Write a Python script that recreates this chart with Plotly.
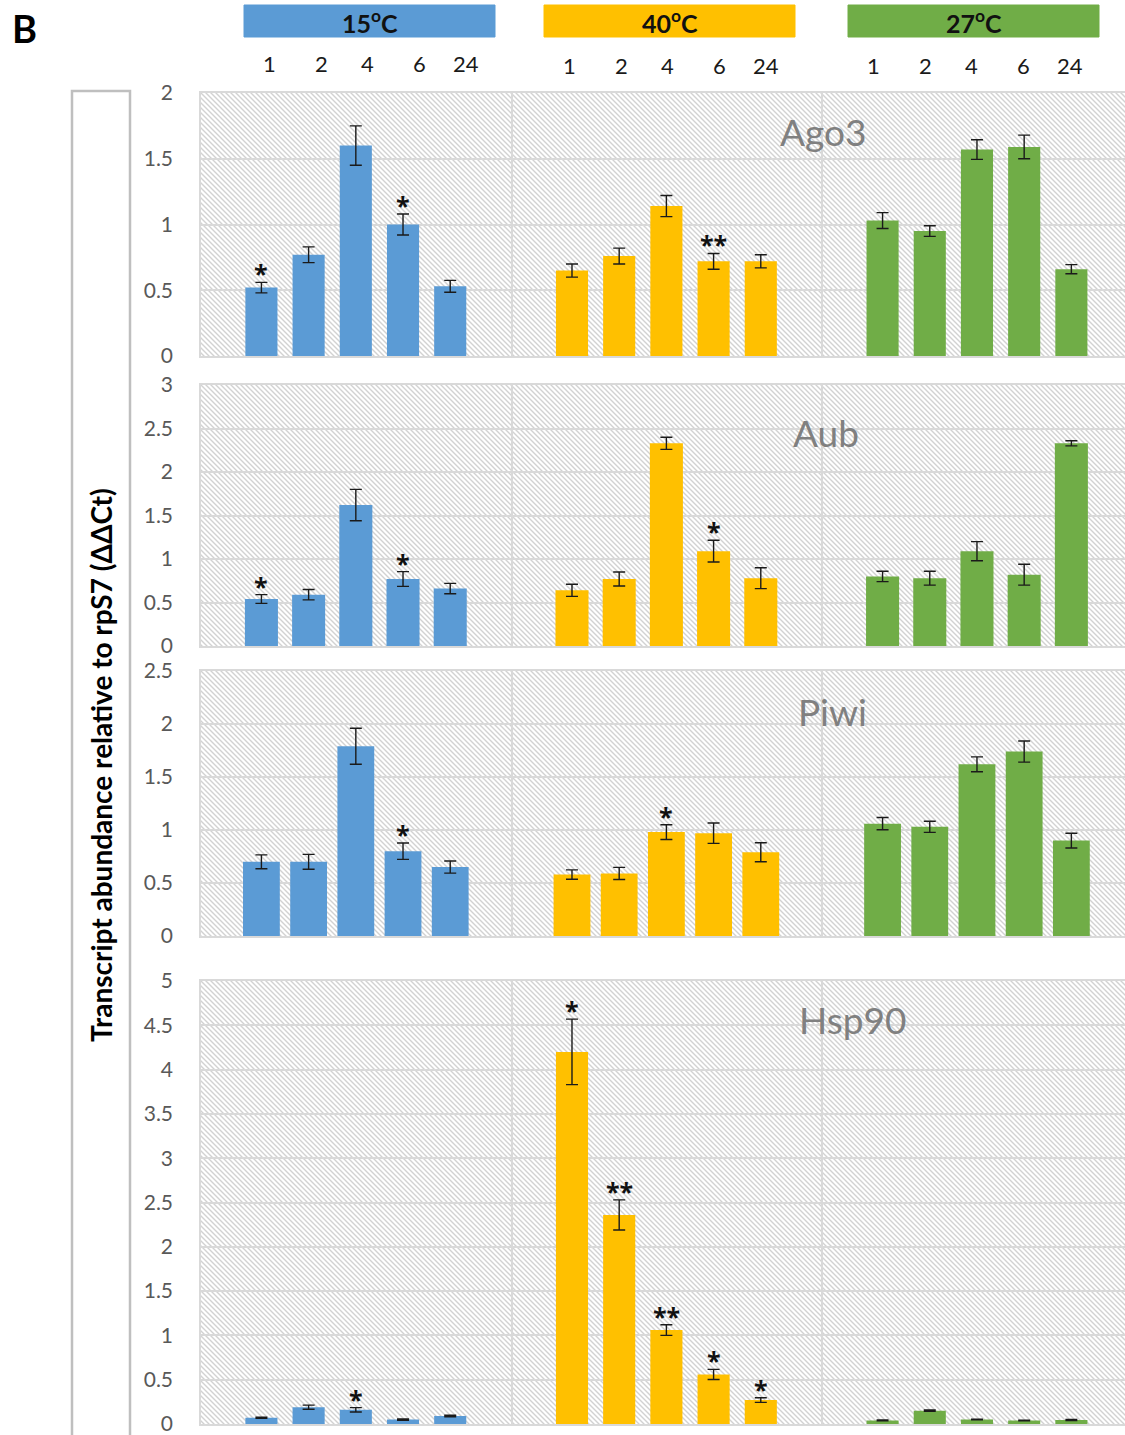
import base64
import plotly.graph_objects as go

# ---------------------------------------------------------------- data
genes = ["Ago3", "Aub", "Piwi", "Hsp90"]
temperatures = ["15", "40", "27"]          # °C, in drawing order
time_points = ["1", "2", "4", "6", "24"]   # hours after shift
bar_colors = ["#5b9bd5", "#ffc000", "#70ad47"]

# mean ΔΔCt, one row per temperature (15, 40, 27 °C), one column per time point
ago3_mean = [[0.52, 0.77, 1.60, 1.00, 0.53],
             [0.65, 0.76, 1.14, 0.72, 0.72],
             [1.03, 0.95, 1.57, 1.59, 0.66]]
ago3_err = [[0.04, 0.06, 0.15, 0.08, 0.045],
            [0.05, 0.06, 0.08, 0.06, 0.05],
            [0.06, 0.04, 0.075, 0.09, 0.035]]
ago3_sig = [["*", "", "", "*", ""],
            ["", "", "", "**", ""],
            ["", "", "", "", ""]]

aub_mean = [[0.54, 0.59, 1.62, 0.77, 0.66],
            [0.64, 0.77, 2.33, 1.09, 0.78],
            [0.80, 0.78, 1.09, 0.82, 2.33]]
aub_err = [[0.05, 0.06, 0.18, 0.085, 0.06],
           [0.07, 0.08, 0.07, 0.125, 0.12],
           [0.06, 0.08, 0.11, 0.12, 0.03]]
aub_sig = [["*", "", "", "*", ""],
           ["", "", "", "*", ""],
           ["", "", "", "", ""]]

piwi_mean = [[0.70, 0.70, 1.79, 0.80, 0.65],
             [0.58, 0.59, 0.98, 0.97, 0.79],
             [1.06, 1.03, 1.62, 1.74, 0.90]]
piwi_err = [[0.065, 0.07, 0.17, 0.077, 0.057],
            [0.044, 0.057, 0.07, 0.096, 0.09],
            [0.058, 0.052, 0.07, 0.10, 0.07]]
piwi_sig = [["", "", "", "*", ""],
            ["", "", "*", "", ""],
            ["", "", "", "", ""]]

hsp90_mean = [[0.07, 0.19, 0.16, 0.05, 0.09],
              [4.20, 2.36, 1.06, 0.56, 0.27],
              [0.04, 0.15, 0.05, 0.04, 0.045]]
hsp90_err = [[0.006, 0.023, 0.025, 0.008, 0.008],
             [0.37, 0.17, 0.06, 0.057, 0.026],
             [0.005, 0.008, 0.004, 0.003, 0.005]]
hsp90_sig = [["", "", "*", "", ""],
             ["*", "**", "**", "*", "*"],
             ["", "", "", "", ""]]

y_axis_title = "Transcript abundance relative to rpS7 (ΔΔCt)"

panels = [
    dict(gene="Ago3", mean=ago3_mean, err=ago3_err, sig=ago3_sig, ymax=2.0),
    dict(gene="Aub", mean=aub_mean, err=aub_err, sig=aub_sig, ymax=3.0),
    dict(gene="Piwi", mean=piwi_mean, err=piwi_err, sig=piwi_sig, ymax=2.5),
    dict(gene="Hsp90", mean=hsp90_mean, err=hsp90_err, sig=hsp90_sig, ymax=5.0),
]

# ---------------------------------------------------------------- layout constants
W, H = 1125, 1435
FONT = "Lato, 'Open Sans', sans-serif"
STAR_FONT = "'Open Sans', Lato, sans-serif"

PLOT_LEFT_PX = 201
panel_px = [(93, 356), (385, 646), (671, 936), (981, 1424)]   # top, bottom of each plot area
bar_widths = [0.68, 0.70, 0.78, 0.68]
gene_label_px = [(823, 131), (826, 433), (832, 711), (852, 1019)]

GROUP_SPAN = 6.58      # x units per temperature block
FIRST_BAR = 1.28       # offset of first bar inside a block
X_MAX = (W - PLOT_LEFT_PX) / 47.2

header_left_px = [244, 544, 848]
HEADER_W = 251
header_top, header_bottom = 5, 37
time_offsets_px = [25, 77, 123, 175, 222]
time_label_y_px = [63, 66, 66]


def px_x(x):
    return x / W


def px_y(y):
    return 1 - y / H


def hatch_uri(w, h):
    """Light diagonal hatch used as the plot-area fill."""
    svg = (
        f'<svg xmlns="http://www.w3.org/2000/svg" width="{w}" height="{h}" '
        f'viewBox="0 0 {w} {h}" preserveAspectRatio="none">'
        '<defs><pattern id="p" width="5" height="5" patternUnits="userSpaceOnUse">'
        '<path d="M-1,-1 L6,6 M-1,4 L1,6 M4,-1 L6,1" stroke="#d2d2d2" stroke-width="1.4"/>'
        '</pattern></defs>'
        '<rect width="100%" height="100%" fill="#ffffff"/>'
        '<rect width="100%" height="100%" fill="url(#p)"/></svg>'
    )
    return "data:image/svg+xml;base64," + base64.b64encode(svg.encode()).decode()


fig = go.Figure()
annotations = []
shapes = []
images = []
layout_axes = {}

for k, p in enumerate(panels):
    n = "" if k == 0 else str(k + 1)
    xref, yref = "x" + n, "y" + n
    top, bottom = panel_px[k]

    for g, temp in enumerate(temperatures):
        xs = [g * GROUP_SPAN + FIRST_BAR + i for i in range(len(time_points))]
        fig.add_trace(go.Bar(
            x=xs, y=p["mean"][g], width=bar_widths[k],
            marker=dict(color=bar_colors[g], line=dict(width=0)),
            error_y=dict(type="data", array=p["err"][g], visible=True,
                         color="#1a1a1a", thickness=1.4, width=6),
            xaxis=xref, yaxis=yref, showlegend=False,
            name=f"{p['gene']} {temp}°C",
        ))
        for i, mark in enumerate(p["sig"][g]):
            if mark:
                annotations.append(dict(
                    x=xs[i], y=p["mean"][g][i] + p["err"][g][i],
                    xref=xref, yref=yref, text=f"<b>{mark}</b>", showarrow=False,
                    yanchor="bottom", yshift=-10,
                    font=dict(family=STAR_FONT, size=25, color="#111111"),
                ))

    layout_axes["xaxis" + n] = dict(
        domain=[px_x(PLOT_LEFT_PX), 1.0], range=[0, X_MAX], anchor=yref,
        tickmode="array", tickvals=[GROUP_SPAN, 2 * GROUP_SPAN],
        showticklabels=False, ticks="", showgrid=True, automargin=False,
        gridcolor="#d9d9d9", gridwidth=1.5,
        showline=True, mirror=True, linecolor="#d9d9d9", linewidth=1.5,
        zeroline=False, fixedrange=True,
    )
    layout_axes["yaxis" + n] = dict(
        domain=[px_y(bottom), px_y(top)], range=[0, p["ymax"]], anchor=xref,
        tick0=0, dtick=0.5, ticks="", ticklabelstandoff=22, automargin=False,
        ticklabeloverflow="allow",
        tickfont=dict(family=FONT, size=21, color="#595959"),
        showgrid=True, gridcolor="#d9d9d9", gridwidth=1.5,
        showline=True, mirror=True, linecolor="#d9d9d9", linewidth=1.5,
        zeroline=False, fixedrange=True,
    )

    images.append(dict(
        source=hatch_uri(W - PLOT_LEFT_PX, bottom - top),
        xref=xref, yref=yref, x=0, y=p["ymax"], sizex=X_MAX, sizey=p["ymax"],
        xanchor="left", yanchor="top", sizing="stretch", layer="below",
    ))

    gx, gy = gene_label_px[k]
    annotations.append(dict(
        x=px_x(gx), y=px_y(gy), xref="paper", yref="paper", text=p["gene"],
        showarrow=False, xanchor="center", yanchor="middle",
        font=dict(family=FONT, size=37, color="#808080"),
    ))

# temperature header boxes with time-point labels underneath
for g, temp in enumerate(temperatures):
    x0 = header_left_px[g]
    shapes.append(dict(
        type="rect", xref="paper", yref="paper",
        x0=px_x(x0), x1=px_x(x0 + HEADER_W),
        y0=px_y(header_bottom), y1=px_y(header_top),
        fillcolor=bar_colors[g], line=dict(color=bar_colors[g], width=1),
        layer="above",
    ))
    annotations.append(dict(
        x=px_x(x0 + HEADER_W / 2), y=px_y((header_top + header_bottom) / 2),
        xref="paper", yref="paper", text=f"<b>{temp}<sup>o</sup>C</b>",
        showarrow=False, xanchor="center", yanchor="middle",
        font=dict(family=FONT, size=25, color="#111111"),
    ))
    for i, t in enumerate(time_points):
        annotations.append(dict(
            x=px_x(x0 + time_offsets_px[i]), y=px_y(time_label_y_px[g]),
            xref="paper", yref="paper", text=t, showarrow=False,
            xanchor="center", yanchor="middle",
            font=dict(family=FONT, size=22, color="#1a1a1a"),
        ))

# panel letter
annotations.append(dict(
    x=px_x(24), y=px_y(28), xref="paper", yref="paper", text="<b>B</b>",
    showarrow=False, xanchor="center", yanchor="middle",
    font=dict(family=FONT, size=38, color="#000000"),
))

# framed, rotated y-axis title shared by all panels
shapes.append(dict(
    type="rect", xref="paper", yref="paper",
    x0=px_x(72), x1=px_x(130), y0=px_y(H + 10), y1=px_y(91),
    line=dict(color="#bfbfbf", width=2.5), fillcolor="rgba(0,0,0,0)",
))
annotations.append(dict(
    x=px_x(101), y=px_y(765), xref="paper", yref="paper",
    text=f"<b>{y_axis_title}</b>", textangle=-90, showarrow=False,
    xanchor="center", yanchor="middle",
    font=dict(family=FONT, size=28, color="#000000"),
))

fig.update_layout(
    width=W, height=H, autosize=False,
    margin=dict(l=0, r=0, t=0, b=0, pad=0, autoexpand=False),
    paper_bgcolor="#ffffff", plot_bgcolor="#ffffff",
    barmode="overlay", showlegend=False,
    annotations=annotations, shapes=shapes, images=images,
    **layout_axes,
)

fig.write_html("out.html")
